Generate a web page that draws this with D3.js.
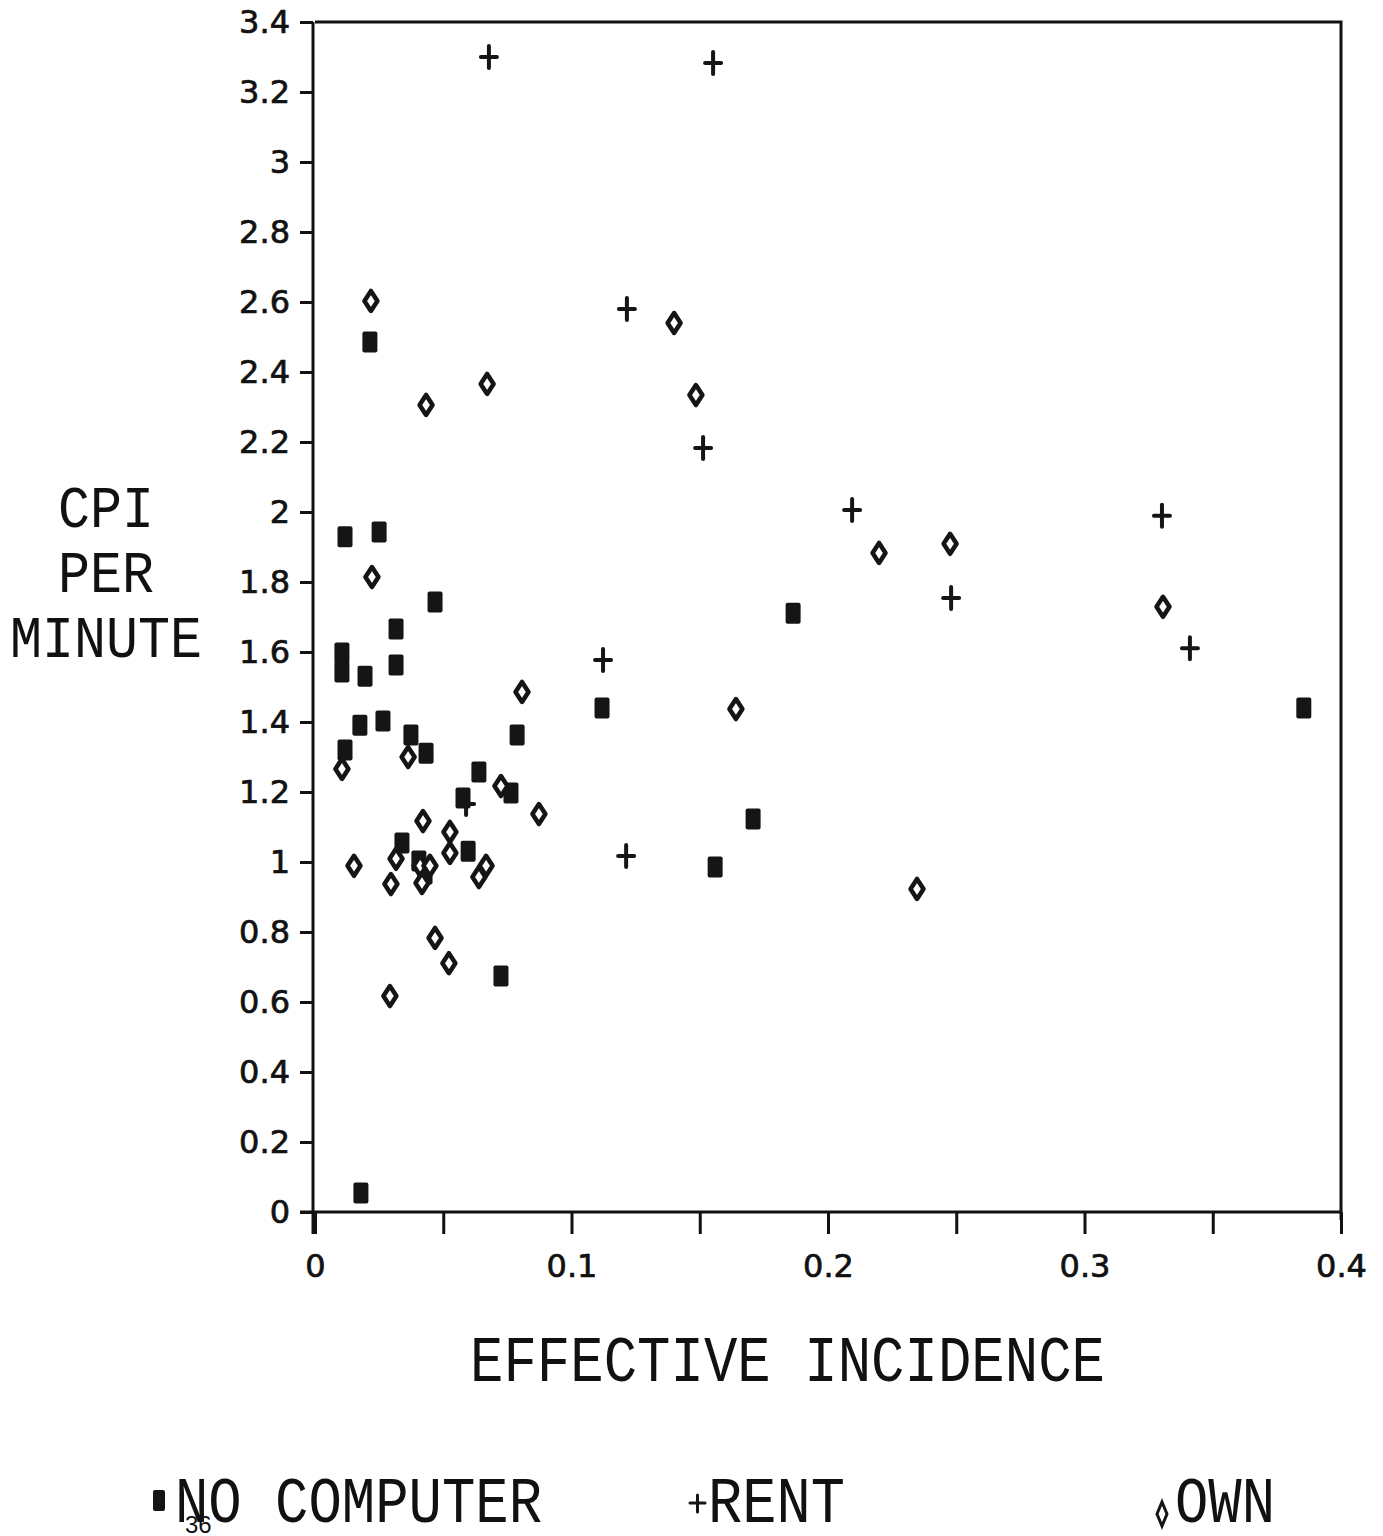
<!DOCTYPE html>
<html>
<head>
<meta charset="utf-8">
<script src="https://cdn.jsdelivr.net/npm/d3@7"></script>
<style>
  body { margin: 0; background: #fff; }
  svg { display: block; }
  .tick text { font-family: "DejaVu Sans", Verdana, sans-serif; font-size: 32px; fill: #111; stroke: #111; stroke-width: 0.7px; }
  .tick line, .domain { stroke: #111; stroke-width: 3; }
  .title { font-family: "Liberation Mono", "DejaVu Sans Mono", monospace; fill: #111; }
</style>
</head>
<body>
<div id="chart"></div>
<script>

// Data: [effective incidence, CPI per minute]
var noComputer = [
    [0.0214, 2.486], [0.0117, 1.929], [0.0250, 1.943], [0.0468, 1.743],
    [0.0316, 1.666], [0.0316, 1.563], [0.0105, 1.597], [0.0105, 1.543],
    [0.0195, 1.531], [0.0175, 1.391], [0.0265, 1.403], [0.0117, 1.320],
    [0.0374, 1.363], [0.0433, 1.311], [0.0788, 1.363], [0.0639, 1.257],
    [0.0764, 1.197], [0.0577, 1.183], [0.0339, 1.054], [0.0597, 1.031],
    [0.0405, 1.003], [0.0429, 0.966], [0.0725, 0.674], [0.0179, 0.054],
    [0.1119, 1.440], [0.1560, 0.986], [0.1708, 1.123], [0.1864, 1.711],
    [0.3855, 1.440]
];

var rent = [
    [0.0678, 3.300], [0.1552, 3.283], [0.1216, 2.580], [0.1513, 2.183],
    [0.2094, 2.006], [0.3302, 1.989], [0.2480, 1.754], [0.3411, 1.611],
    [0.1123, 1.577], [0.1213, 1.017], [0.0589, 1.166]
];

var own = [
    [0.0218, 2.603], [0.1400, 2.540], [0.0671, 2.366], [0.0433, 2.306],
    [0.1485, 2.334], [0.0222, 1.814], [0.2199, 1.883], [0.2476, 1.909],
    [0.3306, 1.729], [0.0807, 1.486], [0.1641, 1.437], [0.0105, 1.266],
    [0.0363, 1.300], [0.0725, 1.217], [0.0873, 1.137], [0.0421, 1.117],
    [0.0526, 1.086], [0.0152, 0.989], [0.0316, 1.009], [0.0296, 0.937],
    [0.0526, 1.026], [0.0667, 0.989], [0.0639, 0.957], [0.0410, 0.989],
    [0.0448, 0.989], [0.0417, 0.940], [0.0468, 0.783], [0.0522, 0.711],
    [0.0292, 0.617], [0.2347, 0.923]
];

// Tick labels
var yTicks = [0, 0.2, 0.4, 0.6, 0.8, 1, 1.2, 1.4, 1.6, 1.8, 2, 2.2, 2.4, 2.6, 2.8, 3, 3.2, 3.4];
var xTicks = [0, 0.05, 0.1, 0.15, 0.2, 0.25, 0.3, 0.35, 0.4];
var xLabels = ["0", "", "0.1", "", "0.2", "", "0.3", "", "0.4"];

var svg = d3.select("#chart").append("svg")
    .attr("width", 1383)
    .attr("height", 1536);

var x = d3.scaleLinear().domain([0, 0.4]).range([315, 1341]);
var y = d3.scaleLinear().domain([0, 3.4]).range([1212, 22]);

// Frame (top and right)
svg.append("path")
    .attr("d", "M" + x(0) + "," + y(3.4) + "H" + x(0.4) + "V" + (y(0) + 8))
    .attr("fill", "none")
    .attr("stroke", "#111")
    .attr("stroke-width", 3);

// Axes
var yAxis = d3.axisLeft(y)
    .tickValues(yTicks)
    .tickSize(13)
    .tickPadding(10)
    .tickFormat(function (d) { return String(+d.toFixed(1)); });

svg.append("g")
    .attr("transform", "translate(" + (x(0) - 2) + ",0)")
    .call(yAxis)
    .call(function (g) { g.select(".domain").attr("d", "M0," + y(3.4) + "V" + (y(0) + 22)); });

var xAxis = d3.axisBottom(x)
    .tickValues(xTicks)
    .tickSize(22)
    .tickPadding(20)
    .tickFormat(function (d, i) { return xLabels[i]; });

svg.append("g")
    .attr("transform", "translate(0," + y(0) + ")")
    .call(xAxis)
    .call(function (g) { g.select(".domain").attr("d", "M" + (x(0) - 15) + ",0H" + x(0.4)); });

// Markers
svg.selectAll("rect.nocomp")
    .data(noComputer)
    .enter()
    .append("rect")
    .attr("class", "nocomp")
    .attr("x", function (d) { return x(d[0]) - 7.5; })
    .attr("y", function (d) { return y(d[1]) - 10.5; })
    .attr("width", 15)
    .attr("height", 21)
    .attr("rx", 2)
    .attr("fill", "#151515");

svg.selectAll("path.own")
    .data(own)
    .enter()
    .append("path")
    .attr("class", "own")
    .attr("transform", function (d) { return "translate(" + x(d[0]) + "," + y(d[1]) + ")"; })
    .attr("d", "M0,-10L6.5,0L0,10L-6.5,0Z")
    .attr("fill", "#fff")
    .attr("stroke", "#151515")
    .attr("stroke-width", 4.5)
    .attr("stroke-linejoin", "round");

svg.selectAll("path.rent")
    .data(rent)
    .enter()
    .append("path")
    .attr("class", "rent")
    .attr("transform", function (d) { return "translate(" + x(d[0]) + "," + y(d[1]) + ")"; })
    .attr("d", "M-8,0H8M0,-11V11")
    .attr("stroke", "#151515")
    .attr("stroke-width", 4)
    .attr("stroke-linecap", "round");

// Axis titles
var yTitle = [["CPI", 527, 96], ["PER", 592, 96], ["MINUTE", 657, 192]];
svg.selectAll("text.ytitle")
    .data(yTitle)
    .enter()
    .append("text")
    .attr("class", "title")
    .attr("x", 106)
    .attr("y", function (d) { return d[1]; })
    .attr("text-anchor", "middle")
    .attr("font-size", 60)
    .attr("textLength", function (d) { return d[2]; })
    .attr("lengthAdjust", "spacingAndGlyphs")
    .text(function (d) { return d[0]; });

svg.append("text")
    .attr("class", "title")
    .attr("x", 470)
    .attr("y", 1381)
    .attr("font-size", 64)
    .attr("textLength", 635)
    .attr("lengthAdjust", "spacingAndGlyphs")
    .text("EFFECTIVE INCIDENCE");

// Legend
svg.append("rect").attr("x", 153).attr("y", 1490).attr("width", 12).attr("height", 21).attr("rx", 2).attr("fill", "#151515");
svg.append("path").attr("d", "M690,1503H705M697.5,1495V1512").attr("stroke", "#151515").attr("stroke-width", 3).attr("stroke-linecap", "round");
svg.append("path").attr("d", "M1162,1502L1167,1514L1162,1526L1157,1514Z").attr("fill", "#fff").attr("stroke", "#151515").attr("stroke-width", 3);

var legend = [["NO COMPUTER", 175, 367], ["RENT", 708, 137], ["OWN", 1175, 100]];
svg.selectAll("text.legend")
    .data(legend)
    .enter()
    .append("text")
    .attr("class", "title")
    .attr("x", function (d) { return d[1]; })
    .attr("y", 1522)
    .attr("font-size", 64)
    .attr("textLength", function (d) { return d[2]; })
    .attr("lengthAdjust", "spacingAndGlyphs")
    .text(function (d) { return d[0]; });

svg.append("text")
    .attr("x", 185)
    .attr("y", 1533)
    .attr("font-family", "Liberation Sans Narrow, Liberation Sans, sans-serif")
    .attr("font-size", 24)
    .attr("fill", "#111")
    .text("36");

</script>
</body>
</html>
